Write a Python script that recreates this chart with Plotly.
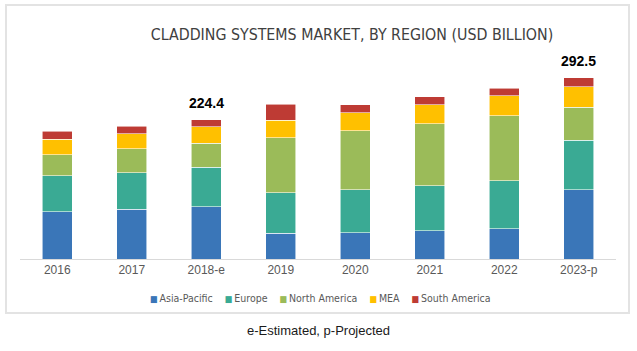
import plotly.graph_objects as go

years = ["2016", "2017", "2018-e", "2019", "2020", "2021", "2022", "2023-p"]
asia_pacific = [76.3, 80.6, 84.2, 41.9, 42.4, 45.6, 48.9, 111.4]
europe = [58.0, 58.6, 63.6, 65.0, 69.4, 72.6, 77.4, 80.3]
north_america = [33.9, 38.7, 38.8, 88.7, 94.7, 100.0, 104.8, 53.0]
mea = [25.3, 24.2, 26.5, 28.5, 29.0, 30.2, 32.3, 33.3]
south_america = [12.4, 11.9, 11.3, 25.8, 12.9, 12.9, 12.4, 14.5]
labelled_years = {"2018-e": "224.4", "2023-p": "292.5"}

series = [
    ("Asia-Pacific", asia_pacific, "#3a76b8"),
    ("Europe", europe, "#3aaa94"),
    ("North America", north_america, "#9bbb59"),
    ("MEA", mea, "#ffc000"),
    ("South America", south_america, "#be3b34"),
]

W, H = 637, 351
L, R, T, B = 20, 21, 42, 92
PW, PH = W - L - R, H - T - B


def px_x(x):
    return (x - L) / PW


def px_y(y):
    return (H - B - y) / PH


fig = go.Figure()
for name, vals, col in series:
    fig.add_trace(go.Bar(
        x=years, y=vals, name=name, showlegend=False,
        marker=dict(color=col, line=dict(color="rgba(255,255,255,0.7)", width=0.8)),
    ))

totals = [sum(v) for v in zip(*[s[1] for s in series])]
for yr, tot in zip(years, totals):
    if yr in labelled_years:
        fig.add_annotation(
            x=yr, y=tot, text="<b>%s</b>" % labelled_years[yr], showarrow=False,
            yanchor="bottom", yshift=7,
            font=dict(family="Liberation Sans, Arial", size=14, color="#000000"),
        )

# legend row (coloured square + series name)
legend_text = "&nbsp;&nbsp;&nbsp;&nbsp;".join(
    "<span style='color:%s;font-size:9px'>■</span>&#8201;%s" % (col, name) for name, _, col in series
)
fig.add_annotation(
    xref="paper", yref="paper", x=px_x(320), y=px_y(298), text=legend_text,
    showarrow=False, xanchor="center", yanchor="middle",
    font=dict(family="Liberation Sans Narrow, DejaVu Sans Condensed, Arial", size=10.5, color="#595959"),
)

fig.add_annotation(
    xref="paper", yref="paper", x=px_x(318), y=px_y(330), text="e-Estimated, p-Projected",
    showarrow=False, xanchor="center", yanchor="middle",
    font=dict(family="Liberation Sans, Arial", size=13, color="#1a1a1a"),
)

fig.add_shape(
    type="rect", xref="paper", yref="paper",
    x0=px_x(6), x1=px_x(629), y0=px_y(313), y1=px_y(5),
    line=dict(color="#e3e3e3", width=2), fillcolor="rgba(0,0,0,0)", layer="below",
)

fig.update_layout(
    width=W, height=H,
    margin=dict(l=L, r=R, t=T, b=B),
    paper_bgcolor="white", plot_bgcolor="white",
    barmode="stack", bargap=0.6, showlegend=False,
    title=dict(
        text="CLADDING SYSTEMS MARKET, BY REGION (USD BILLION)",
        x=352 / W, xanchor="center", xref="container",
        y=(H - 34) / H, yanchor="middle", yref="container",
        font=dict(family="Liberation Sans Narrow, DejaVu Sans Condensed, Arial Narrow, sans-serif",
                  size=15.8, color="#404040"),
    ),
    xaxis=dict(
        showline=True, linecolor="#d9d9d9", linewidth=1, ticks="",
        tickfont=dict(family="Liberation Sans, Arial", size=12, color="#595959"),
        showgrid=False, fixedrange=True,
    ),
    yaxis=dict(
        range=[0, 350], visible=False, showgrid=False, fixedrange=True,
    ),
    font=dict(family="Liberation Sans, Arial"),
)

fig.write_html("out.html")
